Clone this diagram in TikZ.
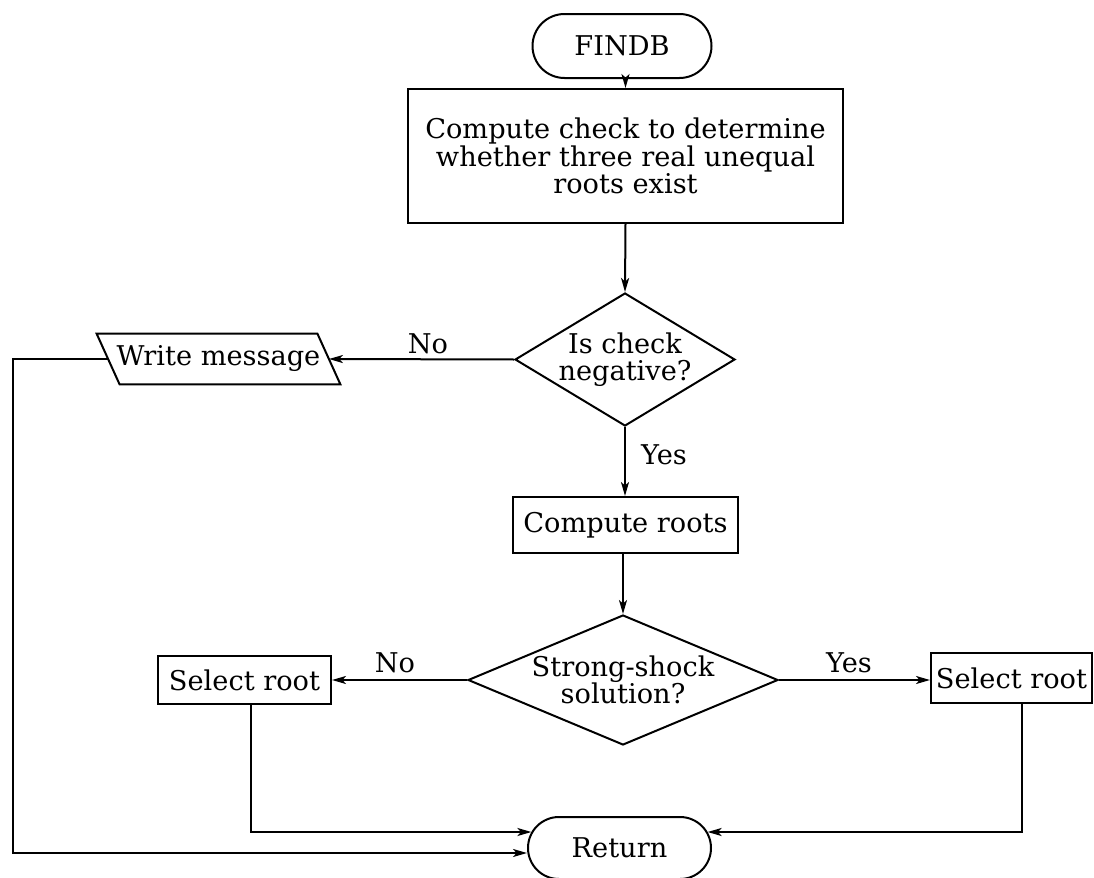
\documentclass[tikz,border=0pt]{standalone}
\usepackage{fontspec}
\setmainfont{DejaVu Serif}
\usetikzlibrary{shapes.geometric,shapes.misc,arrows.meta,calc}
\begin{document}
\begin{tikzpicture}[x=0.5pt,y=-0.5pt,
  every node/.style={font=\fontsize{13.6}{13.6}\selectfont},
  base/.style={draw, line width=1pt, inner sep=0pt, align=center},
  proc/.style={base, rectangle},
  term/.style={base, rounded rectangle},
  decide/.style={base, diamond, inner sep=-8pt},
  iobody/.style={inner sep=0pt, align=center},
  outline/.style={line width=1pt},
  flow/.style={line width=1pt, -{Stealth[length=7pt,width=4pt,inset=1.8pt]}},
  lbl/.style={inner sep=0pt}
]
\useasboundingbox (0,0) rectangle (1094,878);

% main column
\node[term, minimum width=89.5pt, minimum height=32pt] (findb) at (622,46) {FINDB};
\node[proc, minimum width=217.5pt, minimum height=67pt] (check) at (625.5,156)
  {Compute check to determine\\whether three real unequal\\roots exist};
\node[decide, aspect=1.65, minimum width=110pt, minimum height=66.5pt] (neg) at (625,359.5)
  {Is check\\negative?};
\node[proc, minimum width=112.5pt, minimum height=28pt] (roots) at (625.5,525) {Compute roots};
\node[decide, aspect=2.38, minimum width=155pt, minimum height=65pt] (strong) at (623,680)
  {Strong-shock\\solution?};
\node[proc, minimum width=86.5pt, minimum height=24pt] (selL) at (244.5,680) {Select root};
\node[proc, minimum width=80.5pt, minimum height=25pt] (selR) at (1011.5,678) {Select root};
\node[term, minimum width=91.5pt, minimum height=31pt] (ret) at (619.5,848) {Return};

% output step: parallelogram drawn around its text node
\node[iobody, minimum width=110pt, minimum height=25pt] (write) at (218.5,359) {Write message};
\draw[outline] ($(write.north west)+(-11.5,0)$) -- ($(write.north east)+(-11.5,0)$)
  -- ($(write.south east)+(11.5,0)$) -- ($(write.south west)+(11.5,0)$) -- cycle;

% branch labels
\node[lbl] (noA) at (428,344) {No};
\node[lbl] (yesA) at (664,455) {Yes};
\node[lbl] (noB) at (395,663) {No};
\node[lbl] (yesB) at (849,663) {Yes};

% helper points for the return connectors
\coordinate (loopTop) at (13,359);
\coordinate (loopBot) at (13,853);
\coordinate (retL) at ($(ret.west)+(4.4,-16)$);
\coordinate (retR) at ($(ret.east)+(-4.4,-16)$);

% connectors
\draw[flow] (check.north |- findb.south) -- (check.north);
\draw[flow] (check.south) -- (neg.north);
\draw[flow] (neg.west) -- (write.east);
\draw[flow] (write.west) -- (loopTop) -- (loopBot) -- (loopBot -| ret.west);
\draw[flow] (neg.south) -- (neg.south |- roots.north);
\draw[flow] (strong.north |- roots.south) -- (strong.north);
\draw[flow] (strong.west) -- (strong.west -| selL.east);
\draw[flow] (strong.east) -- (strong.east -| selR.west);
\draw[flow] ($(selL.south)+(6.5,0)$) |- (retL);
\draw[flow] ($(selR.south)+(10.5,0)$) |- (retR);
\end{tikzpicture}
\end{document}
